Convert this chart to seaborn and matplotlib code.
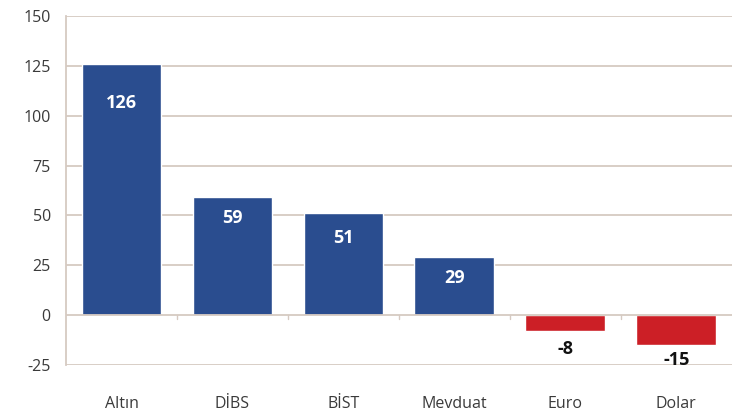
import pandas as pd
import matplotlib.pyplot as plt
import seaborn as sns

# Data
categories = ['Altın', 'DİBS', 'BİST', 'Mevduat', 'Euro', 'Dolar']
values = [126, 59, 51, 29, -8, -15]
yticks = [-25, 0, 25, 50, 75, 100, 125, 150]

blue = '#2a4d8f'
red = '#cc1f26'
grid_col = '#d6cac2'

df = pd.DataFrame({'asset': categories, 'value': values})
df['sign'] = ['pos' if v >= 0 else 'neg' for v in df['value']]

sns.set_style('white')
plt.rcParams['font.family'] = ['Open Sans', 'DejaVu Sans']

fig = plt.figure(figsize=(7.34, 4.19), dpi=100)
ax = fig.add_axes([0.09, 0.129, 0.907, 0.833])

sns.barplot(data=df, x='asset', y='value', hue='sign',
            palette={'pos': blue, 'neg': red}, dodge=False, saturation=1,
            width=0.72, legend=False, ax=ax, zorder=3)

ax.set_xlim(-0.5, 5.5)
ax.set_ylim(-25, 150)
ax.set_yticks(yticks)
ax.set_yticklabels([str(t) for t in yticks])
for t in yticks:
    if t != 0:
        ax.axhline(t, color=grid_col, lw=1.3, zorder=1)
ax.axhline(0, color=grid_col, lw=1.3, zorder=4)

# little ticks on the zero line between categories
for i in range(len(categories) - 1):
    ax.plot([i + 0.5, i + 0.5], [0, -1.8], color=grid_col, lw=1, zorder=4)

for s in ['top', 'right', 'bottom']:
    ax.spines[s].set_visible(False)
ax.spines['left'].set_color(grid_col)
ax.spines['left'].set_linewidth(1.3)

ax.tick_params(axis='y', length=5, color=grid_col, labelsize=11.5, labelcolor='#3a3a3a', pad=6)
ax.tick_params(axis='x', length=0, labelsize=11.5, labelcolor='#3a3a3a', pad=22)
ax.set_xlabel('')
ax.set_ylabel('')

# label offsets (points) from bar end
label_offsets = [-28, -15, -18, -15, -13, -11]
for i, v in enumerate(values):
    col = 'white' if v >= 0 else '#111111'
    ax.annotate(str(v), (i, v), xytext=(0, label_offsets[i]), textcoords='offset points',
                ha='center', va='center', color=col, fontsize=13, fontweight='bold', zorder=5)

fig.savefig('out.png', dpi=100)
